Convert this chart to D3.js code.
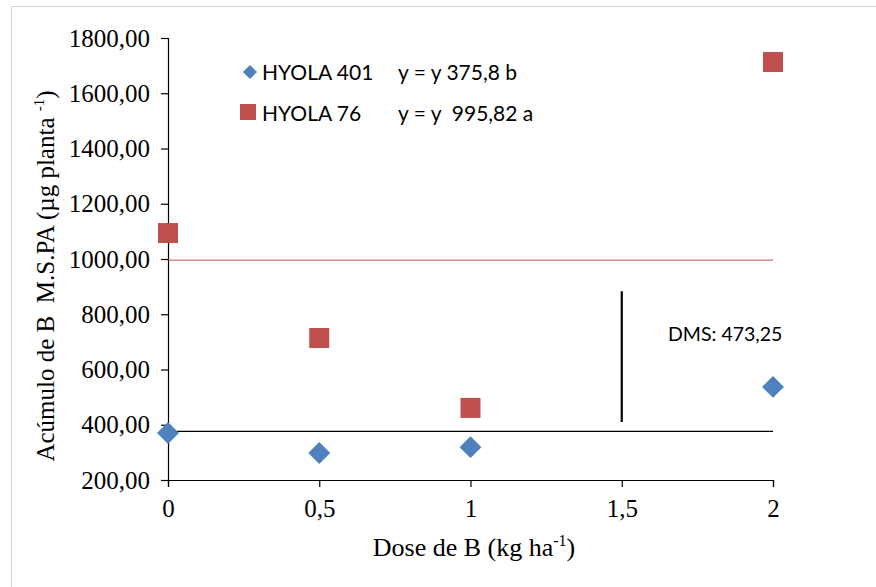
<!DOCTYPE html>
<html>
<head>
<meta charset="utf-8">
<script src="https://cdn.jsdelivr.net/npm/d3@7"></script>
<style>
    body { margin: 0; background: #fff; }
    .tick text { font-family: "Liberation Serif", serif; font-size: 25px; fill: #000; }
    .axis path, .axis line { stroke: #000; stroke-width: 1.2; }
    .title { font-family: "Liberation Serif", serif; fill: #000; }
    .legend { font-family: "Lato", "Open Sans", sans-serif; font-size: 21px; fill: #000; }
</style>
</head>
<body>
<svg id="chart" width="876" height="587"></svg>
<script>
// data
var doses = [0, 0.5, 1, 2];
var hyola401 = [370, 298, 319, 537];
var hyola76 = [1094, 714, 461, 1713];
var mean401 = 375.8;
var mean76 = 995.82;
var dmsValue = 473.25;
var dmsBase = 410;
var dmsDose = 1.5;
var xTicks = [0, 0.5, 1, 1.5, 2];
var yTicks = [200, 400, 600, 800, 1000, 1200, 1400, 1600, 1800];

var blue = '#4f81bd';
var red = '#c0504d';

var svg = d3.select('#chart');

// outer frame
svg.append('rect')
    .attr('x', 11.5).attr('y', 6.5)
    .attr('width', 900).attr('height', 620)
    .attr('fill', 'none')
    .attr('stroke', '#d4d4d4');

var x = d3.scaleLinear().domain([0, 2]).range([168, 773]);
var y = d3.scaleLinear().domain([200, 1800]).range([480, 38]);

var comma = d3.formatLocale({ decimal: ',', thousands: '', grouping: [3], currency: ['', ''] });
var fmtY = comma.format('.2f');
var fmtX = comma.format('');

svg.append('g')
    .attr('class', 'axis')
    .attr('transform', 'translate(0,480)')
    .call(d3.axisBottom(x).tickValues(xTicks).tickFormat(fmtX).tickSizeOuter(0).tickSize(7).tickPadding(12));

svg.append('g')
    .attr('class', 'axis')
    .attr('transform', 'translate(168,0)')
    .call(d3.axisLeft(y).tickValues(yTicks).tickFormat(fmtY).tickSizeOuter(0).tickSize(7).tickPadding(11));

// mean lines
svg.append('line')
    .attr('x1', x(0)).attr('x2', x(2))
    .attr('y1', y(mean76)).attr('y2', y(mean76))
    .attr('stroke', red).attr('stroke-width', 1);
svg.append('line')
    .attr('x1', x(0)).attr('x2', x(2))
    .attr('y1', y(mean401)).attr('y2', y(mean401))
    .attr('stroke', '#000').attr('stroke-width', 1.2);

// DMS bar
svg.append('line')
    .attr('x1', x(dmsDose)).attr('x2', x(dmsDose))
    .attr('y1', y(dmsBase)).attr('y2', y(dmsBase + dmsValue))
    .attr('stroke', '#000').attr('stroke-width', 2.2);
svg.append('text')
    .attr('class', 'legend')
    .style('font-size', '19.5px')
    .attr('x', 668).attr('y', 341)
    .text('DMS: 473,25');

// points
svg.selectAll('.p401')
    .data(doses)
    .enter().append('path')
    .attr('d', d3.symbol().type(d3.symbolSquare).size(240))
    .attr('transform', (d, i) => `translate(${x(d)},${y(hyola401[i])}) rotate(45)`)
    .attr('fill', blue);

svg.selectAll('.p76')
    .data(doses)
    .enter().append('rect')
    .attr('x', d => x(d) - 10)
    .attr('y', (d, i) => y(hyola76[i]) - 10)
    .attr('width', 20).attr('height', 20)
    .attr('fill', red);

// legend
svg.append('path')
    .attr('d', d3.symbol().type(d3.symbolSquare).size(100))
    .attr('transform', 'translate(250,72) rotate(45)')
    .attr('fill', blue);
svg.append('text').attr('class', 'legend').attr('x', 262).attr('y', 80).text('HYOLA 401');
svg.append('text').attr('class', 'legend').attr('x', 398).attr('y', 80).text('y = y 375,8 b');

svg.append('rect')
    .attr('x', 240).attr('y', 104).attr('width', 16).attr('height', 16)
    .attr('fill', red);
svg.append('text').attr('class', 'legend').attr('x', 262).attr('y', 121).text('HYOLA 76');
svg.append('text').attr('class', 'legend').attr('x', 398).attr('y', 121).text('y = y  995,82 a').style('white-space', 'pre');

// axis titles
svg.append('text')
    .attr('class', 'title')
    .style('font-size', '26px')
    .attr('x', 474).attr('y', 556)
    .attr('text-anchor', 'middle')
    .html('Dose de B (kg ha<tspan dy="-10" font-size="16">-1</tspan><tspan dy="10">)</tspan>');

svg.append('text')
    .attr('class', 'title')
    .style('font-size', '25px')
    .attr('transform', 'translate(54,276) rotate(-90)')
    .attr('text-anchor', 'middle')
    .style('white-space', 'pre')
    .html('Acúmulo de B  M.S.PA (µg planta <tspan dy="-10" font-size="15">-1</tspan><tspan dy="10">)</tspan>');
</script>
</body>
</html>
